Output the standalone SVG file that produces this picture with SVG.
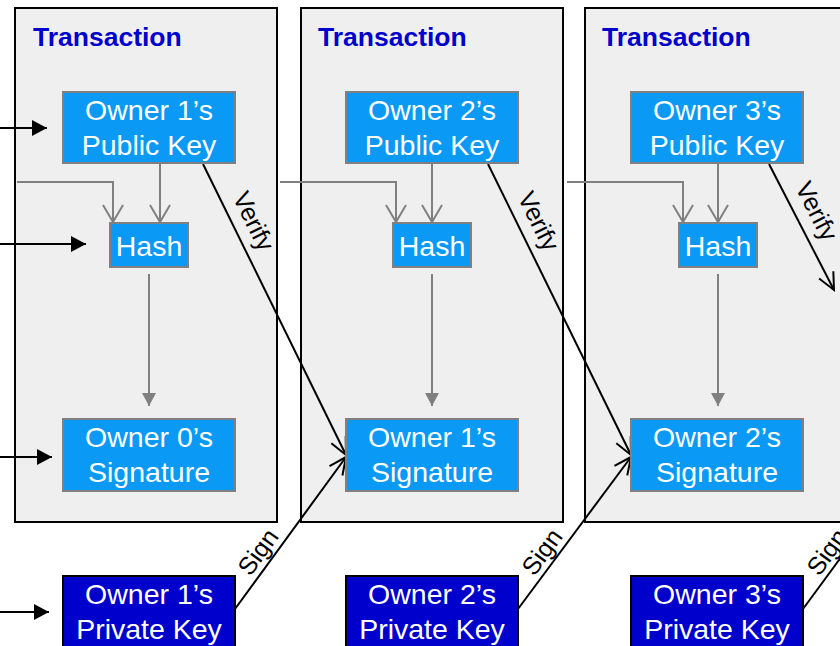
<svg xmlns="http://www.w3.org/2000/svg" width="840" height="646" viewBox="0 0 840 646">
<style>
.tx{fill:#efefef;stroke:#000;stroke-width:2}
.ttl{font-family:"Liberation Sans",Arial,sans-serif;font-weight:bold;font-size:26.5px;fill:#0000cc}
.nb{fill:#0a99f5;stroke:#808080;stroke-width:2}
.pk{fill:#0000cc;stroke:#000;stroke-width:2}
.nt{font-family:"Liberation Sans",Arial,sans-serif;font-size:28.5px;fill:#fff;text-anchor:middle}
.lb{font-family:"Liberation Sans",Arial,sans-serif;font-size:25px;fill:#000;text-anchor:middle}
.g{stroke:#808080;stroke-width:2;fill:none}
.k{stroke:#000;stroke-width:2;fill:none}
</style>
<defs>
<marker id="blk" markerUnits="userSpaceOnUse" markerWidth="16" markerHeight="16" viewBox="0 0 16 16" refX="15" refY="8" orient="auto"><path d="M0,0 L15,8 L0,16 Z" fill="#000"/></marker>
<marker id="gtri" markerUnits="userSpaceOnUse" markerWidth="14" markerHeight="14" viewBox="0 0 14 14" refX="13" refY="7" orient="auto"><path d="M0,0 L13,7 L0,14 Z" fill="#808080"/></marker>
<marker id="gv" markerUnits="userSpaceOnUse" markerWidth="22" markerHeight="24" viewBox="0 0 22 24" refX="18" refY="12" orient="auto"><path d="M1,2 L18,12 L1,22" fill="none" stroke="#808080" stroke-width="2"/></marker>
<marker id="kv" markerUnits="userSpaceOnUse" markerWidth="22" markerHeight="22" viewBox="0 0 22 22" refX="18" refY="11" orient="auto"><path d="M1,3 L18,11 L1,19" fill="none" stroke="#000" stroke-width="2"/></marker>
</defs>

<g id="tx1"><rect class="tx" x="15" y="8" width="262" height="514"/><text class="ttl" x="33" y="46">Transaction</text></g>
<g id="tx2"><rect class="tx" x="301" y="8" width="262" height="514"/><text class="ttl" x="318" y="46">Transaction</text></g>
<g id="tx3"><rect class="tx" x="585" y="8" width="300" height="514"/><text class="ttl" x="602" y="46">Transaction</text></g>

<g id="connectors">
<line class="k" x1="0" y1="128" x2="47" y2="128" marker-end="url(#blk)"/>
<line class="k" x1="0" y1="244" x2="86" y2="244" marker-end="url(#blk)"/>
<line class="k" x1="0" y1="457" x2="52" y2="457" marker-end="url(#blk)"/>
<line class="k" x1="0" y1="612" x2="49" y2="612" marker-end="url(#blk)"/>
<polyline class="g" points="17,182 113,182 113,222" marker-end="url(#gv)"/>
<line class="g" x1="160" y1="163" x2="160" y2="222" marker-end="url(#gv)"/>
<line class="g" x1="149" y1="274" x2="149" y2="406" marker-end="url(#gtri)"/>
<polyline class="g" points="280,182 396,182 396,222" marker-end="url(#gv)"/>
<line class="g" x1="432" y1="163" x2="432" y2="222" marker-end="url(#gv)"/>
<line class="g" x1="432" y1="274" x2="432" y2="406" marker-end="url(#gtri)"/>
<polyline class="g" points="567,182 683,182 683,222" marker-end="url(#gv)"/>
<line class="g" x1="718" y1="163" x2="718" y2="222" marker-end="url(#gv)"/>
<line class="g" x1="718" y1="274" x2="718" y2="406" marker-end="url(#gtri)"/>
<line class="k" x1="203" y1="164" x2="346" y2="455" marker-end="url(#kv)"/>
<line class="k" x1="488" y1="164" x2="631" y2="455" marker-end="url(#kv)"/>
<line class="k" x1="769" y1="164" x2="834" y2="290" marker-end="url(#kv)"/>
<line class="k" x1="346" y1="436" x2="346" y2="474"/>
<line class="k" x1="631" y1="436" x2="631" y2="474"/>
<text class="lb" transform="translate(246,225) rotate(63.8)">Verify</text>
<text class="lb" transform="translate(531,225) rotate(63.8)">Verify</text>
<text class="lb" transform="translate(809,215) rotate(62.7)">Verify</text>
<line class="k" x1="235" y1="609" x2="346" y2="457" marker-end="url(#kv)"/>
<line class="k" x1="518" y1="609" x2="631" y2="457" marker-end="url(#kv)"/>
<line class="k" x1="803" y1="609" x2="850" y2="545"/>
<text class="lb" transform="translate(265,557) rotate(-54)">Sign</text>
<text class="lb" transform="translate(549,557) rotate(-54)">Sign</text>
<text class="lb" transform="translate(834,557) rotate(-54)">Sign</text>
</g>

<g id="pub1"><rect class="nb" x="63" y="92" width="172" height="71"/><text class="nt" x="149" y="120">Owner 1’s</text><text class="nt" x="149" y="155">Public Key</text></g>
<g id="hash1"><rect class="nb" x="110" y="223" width="78" height="44"/><text class="nt" x="149" y="256">Hash</text></g>
<g id="sig1"><rect class="nb" x="63" y="419" width="172" height="72"/><text class="nt" x="149" y="447">Owner 0’s</text><text class="nt" x="149" y="482">Signature</text></g>
<g id="priv1"><rect class="pk" x="63" y="576" width="172" height="80"/><text class="nt" x="149" y="604">Owner 1’s</text><text class="nt" x="149" y="639">Private Key</text></g>

<g id="pub2"><rect class="nb" x="346" y="92" width="172" height="71"/><text class="nt" x="432" y="120">Owner 2’s</text><text class="nt" x="432" y="155">Public Key</text></g>
<g id="hash2"><rect class="nb" x="393" y="223" width="78" height="44"/><text class="nt" x="432" y="256">Hash</text></g>
<g id="sig2"><rect class="nb" x="346" y="419" width="172" height="72"/><text class="nt" x="432" y="447">Owner 1’s</text><text class="nt" x="432" y="482">Signature</text></g>
<g id="priv2"><rect class="pk" x="346" y="576" width="172" height="80"/><text class="nt" x="432" y="604">Owner 2’s</text><text class="nt" x="432" y="639">Private Key</text></g>

<g id="pub3"><rect class="nb" x="631" y="92" width="172" height="71"/><text class="nt" x="717" y="120">Owner 3’s</text><text class="nt" x="717" y="155">Public Key</text></g>
<g id="hash3"><rect class="nb" x="679" y="223" width="78" height="44"/><text class="nt" x="718" y="256">Hash</text></g>
<g id="sig3"><rect class="nb" x="631" y="419" width="172" height="72"/><text class="nt" x="717" y="447">Owner 2’s</text><text class="nt" x="717" y="482">Signature</text></g>
<g id="priv3"><rect class="pk" x="631" y="576" width="172" height="80"/><text class="nt" x="717" y="604">Owner 3’s</text><text class="nt" x="717" y="639">Private Key</text></g>
</svg>
